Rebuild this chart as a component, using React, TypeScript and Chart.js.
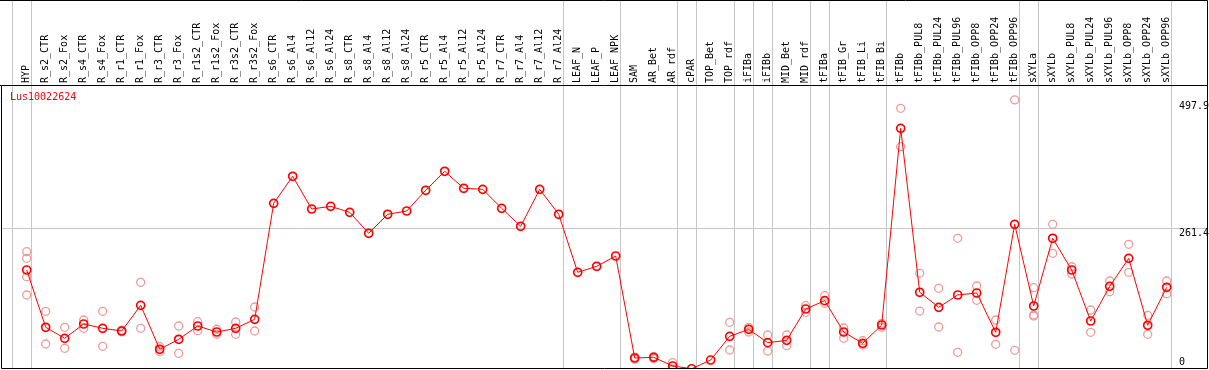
import React, { useEffect, useRef } from "react";
import { Chart, registerables } from "chart.js";

Chart.register(...registerables);

const geneName = "Lus10022624";

const categories = [
  "HYP", "R_s2_CTR", "R_s2_Fox", "R_s4_CTR", "R_s4_Fox", "R_r1_CTR", "R_r1_Fox",
  "R_r3_CTR", "R_r3_Fox", "R_r1s2_CTR", "R_r1s2_Fox", "R_r3s2_CTR", "R_r3s2_Fox",
  "R_s6_CTR", "R_s6_Al4", "R_s6_Al12", "R_s6_Al24", "R_s8_CTR", "R_s8_Al4",
  "R_s8_Al12", "R_s8_Al24", "R_r5_CTR", "R_r5_Al4", "R_r5_Al12", "R_r5_Al24",
  "R_r7_CTR", "R_r7_Al4", "R_r7_Al12", "R_r7_Al24", "LEAF_N", "LEAF_P", "LEAF_NPK",
  "SAM", "AR_Bet", "AR_rdf", "cPAR", "TOP_Bet", "TOP_rdf", "iFIBa", "iFIBb",
  "MID_Bet", "MID_rdf", "tFIBa", "tFIB_Gr", "tFIB_Li", "tFIB_Bi", "tFIBb",
  "tFIBb_PUL8", "tFIBb_PUL24", "tFIBb_PUL96", "tFIBb_OPP8", "tFIBb_OPP24", "tFIBb_OPP96",
  "sXYLa", "sXYLb", "sXYLb_PUL8", "sXYLb_PUL24", "sXYLb_PUL96", "sXYLb_OPP8",
  "sXYLb_OPP24", "sXYLb_OPP96",
];

const meanValues = [
  183.9, 77.5, 57.0, 83.6, 75.6, 70.6, 118.3, 36.6, 55.2, 79.9, 68.7, 75.6, 92.3,
  307.8, 358.0, 297.2, 302.2, 291.1, 252.1, 287.4, 293.5, 332.0, 367.3, 335.7, 333.8,
  298.5, 265.1, 333.8, 287.4, 179.6, 190.8, 209.9,
  20.4, 21.7, 5.6, 0.5, 16.7, 60.7, 73.7, 48.9, 53.3, 111.5, 126.9, 68.7, 47.7, 81.7,
  447.1, 142.5, 114.6, 137.5, 141.2, 68.2, 268.8,
  117.0, 242.8, 183.9, 89.2, 153.6, 205.6, 81.2, 151.8,
];

const replicateValues: number[][] = [
  [217.9, 205.6, 171.5, 137.5], [107.2, 46.4], [77.5, 38.5], [91.0, 75.6], [107.2, 42.2],
  [72.0, 69.0], [161.0, 75.6], [41.4, 32.1], [79.9, 29.2], [87.9, 71.2], [73.8, 64.5],
  [87.3, 64.5], [115.2, 70.6],
  [], [], [], [], [], [], [], [], [], [], [], [], [], [], [], [], [], [], [],
  [22.0, 18.0], [23.0, 19.0], [12.0, 0.0], [], [], [86.8, 35.3], [77.5, 68.7],
  [63.2, 33.4], [63.2, 43.3], [117.6, 105.3], [136.2, 122.0], [76.2, 57.0],
  [52.6, 44.6], [84.9, 77.5],
  [484.3, 413.0], [177.8, 107.7], [149.9, 78.0], [242.8, 31.0], [154.2, 127.6],
  [91.0, 45.9], [500.0, 34.7],
  [151.0, 98.5, 100.3], [268.8, 214.9], [190.0, 176.5], [109.6, 68.2], [163.5, 143.6],
  [231.6, 179.6], [99.8, 64.5], [163.5, 139.9],
];

const yTickValues = [0, 261.4, 497.9];
const gridTickValue = 261.4;
const separatorAfter = [-1, 0, 28, 31, 34, 35, 37, 38, 39, 41, 42, 45, 52, 53, 60];

const FONT = { family: '"DejaVu Sans Mono", monospace', size: 10 };
const GRID_GRAY = "#c6c6c6";

const decorPlugin = {
  id: "decor",
  beforeDatasetsDraw(chart: any) {
    const { ctx, chartArea, scales } = chart;
    const xs = scales.x;
    ctx.save();
    ctx.strokeStyle = GRID_GRAY;
    ctx.lineWidth = 1;
    separatorAfter.forEach((i) => {
      const px = Math.round(xs.getPixelForValue(i + 0.21)) + 0.5;
      ctx.beginPath();
      ctx.moveTo(px, 0);
      ctx.lineTo(px, chartArea.bottom);
      ctx.stroke();
    });
    ctx.restore();
  },
  afterDraw(chart: any) {
    const { ctx, chartArea } = chart;
    const l = Math.round(chartArea.left) + 0.5;
    const r = Math.round(chartArea.right) + 0.5;
    const t = Math.round(chartArea.top) + 0.5;
    const b = Math.round(chartArea.bottom) - 0.5;
    ctx.save();
    ctx.strokeStyle = "#000";
    ctx.lineWidth = 1;
    ctx.beginPath();
    ctx.moveTo(0, 0.5);
    ctx.lineTo(r, 0.5);
    ctx.lineTo(r, b);
    ctx.lineTo(l, b);
    ctx.lineTo(l, t);
    ctx.lineTo(r, t);
    ctx.moveTo(0, t);
    ctx.lineTo(l, t);
    ctx.stroke();
    ctx.fillStyle = "#ff0000";
    ctx.font = `${FONT.size}px ${FONT.family}`;
    ctx.textBaseline = "alphabetic";
    ctx.textAlign = "left";
    ctx.fillText(geneName, chartArea.left + 9, chartArea.top + 15);
    ctx.restore();
  },
};

export default function App() {
  const canvasRef = useRef<HTMLCanvasElement | null>(null);

  useEffect(() => {
    document.body.style.margin = "0";
    const canvas = canvasRef.current;
    if (!canvas) return;

    const meanData = meanValues.map((v, i) => ({ x: i, y: v }));
    const repData: { x: number; y: number }[] = [];
    replicateValues.forEach((arr, i) => arr.forEach((v) => repData.push({ x: i, y: v })));

    const chart = new Chart(canvas, {
      type: "line",
      data: {
        datasets: [
          {
            data: meanData,
            borderColor: "#ff0000",
            borderWidth: 1,
            pointRadius: 4,
            pointBorderWidth: 1.7,
            pointBorderColor: "#ff0000",
            pointBackgroundColor: "rgba(0,0,0,0)",
            tension: 0,
            fill: false,
          },
          {
            data: repData,
            showLine: false,
            pointRadius: 4,
            pointBorderWidth: 1.3,
            pointBorderColor: "#ee9a9a",
            pointBackgroundColor: "rgba(0,0,0,0)",
          },
        ],
      },
      options: {
        animation: false,
        responsive: false,
        events: [],
        layout: { autoPadding: false, padding: { left: 1, right: 2, top: 0, bottom: 1 } },
        plugins: { legend: { display: false }, tooltip: { enabled: false }, title: { display: false } },
        scales: {
          x: {
            type: "linear",
            position: "top",
            min: -1.3526,
            max: 62.121,
            afterBuildTicks: (s: any) => {
              s.ticks = categories.map((_, i) => ({ value: i }));
            },
            afterFit: (s: any) => {
              s.height = 85;
              s.paddingLeft = 0;
              s.paddingRight = 0;
            },
            grid: { display: false, drawTicks: false, tickLength: 0 },
            border: { display: false },
            ticks: {
              autoSkip: false,
              minRotation: 90,
              maxRotation: 90,
              padding: 2,
              labelOffset: 12,
              color: "#000",
              font: FONT,
              callback: (v: any) => categories[v] ?? "",
            },
          },
          y: {
            type: "linear",
            position: "left",
            min: 0,
            max: 527.6,
            afterBuildTicks: (s: any) => {
              s.ticks = yTickValues.map((v) => ({ value: v }));
            },
            afterFit: (s: any) => {
              s.width = 0;
              s.paddingTop = 0;
              s.paddingBottom = 0;
            },
            grid: {
              drawTicks: false,
              tickLength: 0,
              lineWidth: 1,
              color: (c: any) => (c.tick && c.tick.value === gridTickValue ? GRID_GRAY : "rgba(0,0,0,0)"),
            },
            border: { display: false },
            ticks: {
              mirror: true,
              padding: 1178,
              labelOffset: 5,
              autoSkip: false,
              color: "#000",
              font: FONT,
              callback: (v: any) => (v === 0 ? ["0", "", ""] : String(v)),
            },
          },
        },
      },
      plugins: [decorPlugin],
    });
    return () => chart.destroy();
  }, []);

  return (
    <div style={{ width: 1209, height: 370, position: "relative" }}>
      <canvas ref={canvasRef} width={1209} height={370} style={{ display: "block" }} />
    </div>
  );
}
